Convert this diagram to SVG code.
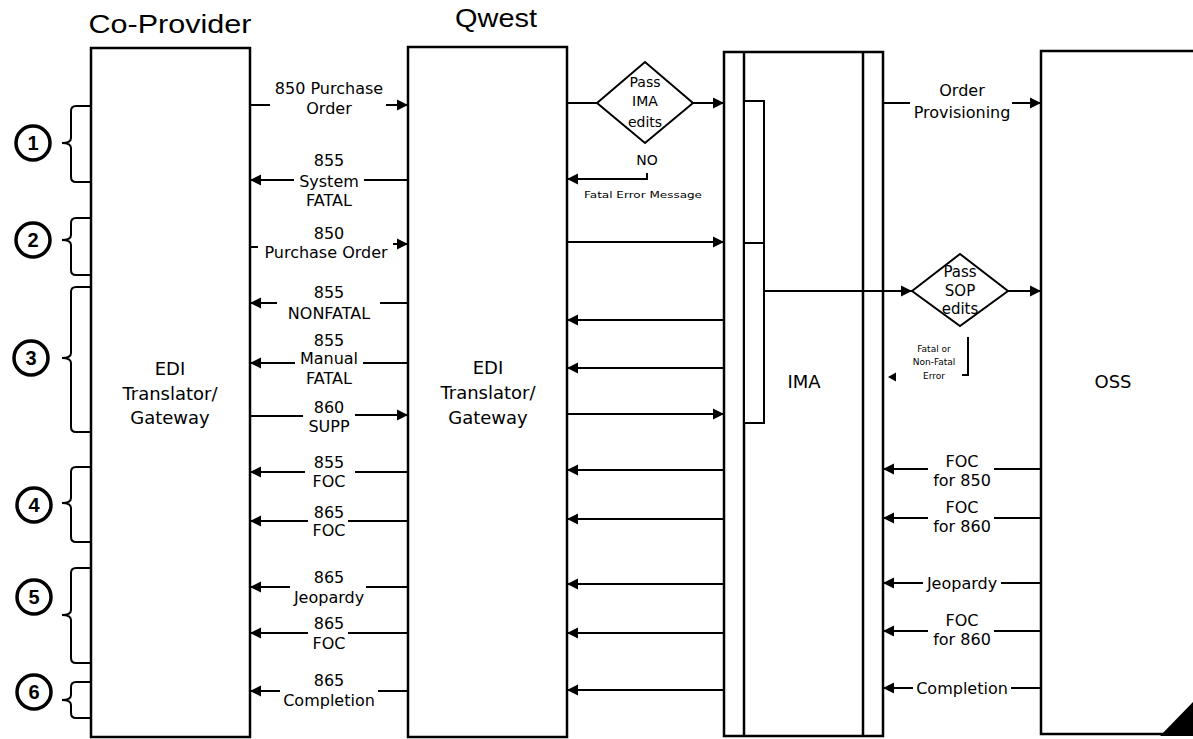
<svg xmlns="http://www.w3.org/2000/svg" width="1193" height="739" viewBox="0 0 1193 739">
<style>
.box{fill:#fff;stroke:#000;stroke-width:2.5}
.ln{fill:none;stroke:#000;stroke-width:2}
.arr{marker-end:url(#ah)}
.t{font-family:"DejaVu Sans",sans-serif;font-size:16px;fill:#000;text-anchor:middle}
.big{font-family:"DejaVu Sans",sans-serif;font-size:18px;fill:#000;text-anchor:middle}
.sm{font-family:"DejaVu Sans",sans-serif;font-size:9px;fill:#000;text-anchor:middle}
.title{font-family:"Liberation Sans",Arial,sans-serif;font-size:25px;fill:#000;text-anchor:middle}
.num{font-family:"Liberation Sans",Arial,sans-serif;font-size:20px;font-weight:bold;fill:#000;text-anchor:middle}
.circ{fill:#fff;stroke:#000;stroke-width:3.5}
.brace{fill:none;stroke:#000;stroke-width:2}
</style>
<defs>
<marker id="ah" markerUnits="userSpaceOnUse" markerWidth="12" markerHeight="12" refX="11" refY="6" orient="auto">
<path d="M0,0.5 L11,6 L0,11.5 z" fill="#000"/>
</marker>
</defs>
<rect width="1193" height="739" fill="#fff"/>

<g id="title-coprovider"><text class="title" x="170" y="33" textLength="163" lengthAdjust="spacingAndGlyphs">Co-Provider</text></g>
<g id="title-qwest"><text class="title" x="496" y="27" textLength="82" lengthAdjust="spacingAndGlyphs">Qwest</text></g>

<g id="co-provider">
<rect class="box" x="91" y="48" width="159" height="689"/>
<text class="big" x="170" y="375">EDI</text>
<text class="big" x="170" y="400">Translator/</text>
<text class="big" x="170" y="424">Gateway</text>
</g>

<g id="qwest">
<rect class="box" x="408" y="47" width="159" height="690"/>
<text class="big" x="488" y="374">EDI</text>
<text class="big" x="488" y="399">Translator/</text>
<text class="big" x="488" y="424">Gateway</text>
</g>

<g id="ima">
<rect class="box" x="724" y="52" width="159" height="684"/>
<line class="ln" x1="744" y1="52" x2="744" y2="736" style="stroke-width:2.5"/>
<line class="ln" x1="863" y1="52" x2="863" y2="736" style="stroke-width:2.5"/>
<rect class="box" x="744" y="101" width="20" height="142" style="stroke-width:2"/>
<rect class="box" x="744" y="243" width="20" height="180" style="stroke-width:2"/>
<text class="big" x="804" y="388">IMA</text>
</g>

<g id="oss">
<rect class="box" x="1041" y="51" width="200" height="683"/>
<text class="big" x="1113" y="388">OSS</text>
<polygon points="1160,736 1195,736 1195,700" fill="#000"/>
</g>

<g id="ima-edits-check">
<polygon class="box" points="597,103 645,62 693,103 645,143" style="stroke-width:2"/>
<text class="t" x="645" y="87" style="font-size:14px">Pass</text>
<text class="t" x="645" y="106" style="font-size:14px">IMA</text>
<text class="t" x="645" y="127" style="font-size:14px">edits</text>
</g>

<g id="sop-edits-check">
<polygon class="box" points="912,291 960,254 1008,291 960,326" style="stroke-width:2"/>
<text class="t" x="960" y="277" style="font-size:15px">Pass</text>
<text class="t" x="960" y="296" style="font-size:15px">SOP</text>
<text class="t" x="960" y="314" style="font-size:15px">edits</text>
</g>

<g id="step-markers">
<path class="brace" d="M91,106 H76 Q71,106 71,111 V138 Q71,143 62,143 Q71,143 71,148 V177 Q71,182 76,182 H91"/>
<path class="brace" d="M91,218 H76 Q71,218 71,223 V235 Q71,240 62,240 Q71,240 71,245 V270 Q71,275 76,275 H91"/>
<path class="brace" d="M91,287 H76 Q71,287 71,292 V353 Q71,358 62,358 Q71,358 71,363 V427 Q71,432 76,432 H91"/>
<path class="brace" d="M91,467 H76 Q71,467 71,472 V498 Q71,503 62,503 Q71,503 71,508 V537 Q71,542 76,542 H91"/>
<path class="brace" d="M91,568 H76 Q71,568 71,573 V610 Q71,615 62,615 Q71,615 71,620 V658 Q71,663 76,663 H91"/>
<path class="brace" d="M91,682 H76 Q71,682 71,687 V695 Q71,700 62,700 Q71,700 71,705 V713 Q71,718 76,718 H91"/>
<circle class="circ" cx="33" cy="143" r="17"/><text class="num" x="33" y="150">1</text>
<circle class="circ" cx="33" cy="240" r="17"/><text class="num" x="33" y="247">2</text>
<circle class="circ" cx="31" cy="358" r="17"/><text class="num" x="31" y="365">3</text>
<circle class="circ" cx="34" cy="505" r="17"/><text class="num" x="34" y="512">4</text>
<circle class="circ" cx="34" cy="597" r="17"/><text class="num" x="34" y="604">5</text>
<circle class="circ" cx="34" cy="692" r="17"/><text class="num" x="34" y="699">6</text>
</g>

<g id="connectors">
<!-- Co-Provider <-> Qwest -->
<line class="ln" x1="250" y1="105" x2="270" y2="105"/><line class="ln arr" x1="386" y1="105" x2="408" y2="105"/>
<line class="ln" x1="408" y1="180" x2="364" y2="180"/><line class="ln arr" x1="294" y1="180" x2="250" y2="180"/>
<line class="ln" x1="250" y1="247" x2="258" y2="247"/><line class="ln arr" x1="393" y1="244" x2="408" y2="244"/>
<line class="ln" x1="408" y1="303" x2="380" y2="303"/><line class="ln arr" x1="277" y1="303" x2="250" y2="303"/>
<line class="ln" x1="408" y1="363" x2="363" y2="363"/><line class="ln arr" x1="295" y1="363" x2="250" y2="363"/>
<line class="ln" x1="250" y1="416" x2="303" y2="416"/><line class="ln arr" x1="355" y1="415" x2="408" y2="415"/>
<line class="ln" x1="408" y1="472" x2="355" y2="472"/><line class="ln arr" x1="305" y1="472" x2="250" y2="472"/>
<line class="ln" x1="408" y1="521" x2="348" y2="521"/><line class="ln arr" x1="308" y1="521" x2="250" y2="521"/>
<line class="ln" x1="408" y1="587" x2="366" y2="587"/><line class="ln arr" x1="290" y1="587" x2="250" y2="587"/>
<line class="ln" x1="408" y1="633" x2="348" y2="633"/><line class="ln arr" x1="308" y1="633" x2="250" y2="633"/>
<line class="ln" x1="408" y1="691" x2="378" y2="691"/><line class="ln arr" x1="280" y1="691" x2="250" y2="691"/>
<!-- Qwest <-> IMA -->
<line class="ln" x1="567" y1="103" x2="597" y2="103"/><line class="ln arr" x1="693" y1="103" x2="724" y2="103"/>
<path class="ln arr" d="M647,173 V179 H567"/>
<line class="ln arr" x1="567" y1="242" x2="724" y2="242"/>
<line class="ln arr" x1="724" y1="320" x2="567" y2="320"/>
<line class="ln arr" x1="724" y1="368" x2="567" y2="368"/>
<line class="ln arr" x1="567" y1="414" x2="724" y2="414"/>
<line class="ln arr" x1="724" y1="470" x2="567" y2="470"/>
<line class="ln arr" x1="724" y1="519" x2="567" y2="519"/>
<line class="ln arr" x1="724" y1="584" x2="567" y2="584"/>
<line class="ln arr" x1="724" y1="633" x2="567" y2="633"/>
<line class="ln arr" x1="724" y1="690" x2="567" y2="690"/>
<!-- IMA -> SOP check -> OSS -->
<line class="ln arr" x1="764" y1="291" x2="912" y2="291"/>
<line class="ln arr" x1="1008" y1="291" x2="1041" y2="291"/>
<path class="ln" d="M968,337 V375 H962"/>
<polygon points="888,377 896,372.5 896,381.5" fill="#000"/>
<!-- IMA <-> OSS -->
<line class="ln" x1="883" y1="103" x2="910" y2="103"/><line class="ln arr" x1="1012" y1="103" x2="1041" y2="103"/>
<line class="ln" x1="1041" y1="469" x2="994" y2="469"/><line class="ln arr" x1="928" y1="469" x2="883" y2="469"/>
<line class="ln" x1="1041" y1="518" x2="994" y2="518"/><line class="ln arr" x1="928" y1="518" x2="883" y2="518"/>
<line class="ln" x1="1041" y1="583" x2="1001" y2="583"/><line class="ln arr" x1="923" y1="583" x2="883" y2="583"/>
<line class="ln" x1="1041" y1="631" x2="994" y2="631"/><line class="ln arr" x1="928" y1="631" x2="883" y2="631"/>
<line class="ln" x1="1041" y1="688" x2="1011" y2="688"/><line class="ln arr" x1="913" y1="688" x2="883" y2="688"/>
</g>

<g id="connector-labels">
<text class="t" x="329" y="94">850 Purchase</text><text class="t" x="329" y="114">Order</text>
<text class="t" x="329" y="166">855</text><text class="t" x="329" y="187">System</text><text class="t" x="329" y="206">FATAL</text>
<text class="t" x="329" y="239">850</text><text class="t" x="326" y="258">Purchase Order</text>
<text class="t" x="329" y="298">855</text><text class="t" x="329" y="319">NONFATAL</text>
<text class="t" x="329" y="346">855</text><text class="t" x="329" y="364">Manual</text><text class="t" x="329" y="384">FATAL</text>
<text class="t" x="329" y="413">860</text><text class="t" x="329" y="432">SUPP</text>
<text class="t" x="329" y="468">855</text><text class="t" x="329" y="487">FOC</text>
<text class="t" x="329" y="518">865</text><text class="t" x="329" y="536">FOC</text>
<text class="t" x="329" y="583">865</text><text class="t" x="329" y="603">Jeopardy</text>
<text class="t" x="329" y="629">865</text><text class="t" x="329" y="649">FOC</text>
<text class="t" x="329" y="686">865</text><text class="t" x="329" y="706">Completion</text>
<text class="t" x="647" y="165" style="font-size:14px">NO</text>
<text class="sm" x="643" y="198" textLength="118" lengthAdjust="spacingAndGlyphs">Fatal Error Message</text>
<text class="t" x="962" y="96">Order</text><text class="t" x="962" y="118">Provisioning</text>
<text class="sm" x="934" y="352">Fatal or</text><text class="sm" x="934" y="365">Non-Fatal</text><text class="sm" x="934" y="379">Error</text>
<text class="t" x="962" y="467">FOC</text><text class="t" x="962" y="486">for 850</text>
<text class="t" x="962" y="513">FOC</text><text class="t" x="962" y="532">for 860</text>
<text class="t" x="962" y="589">Jeopardy</text>
<text class="t" x="962" y="626">FOC</text><text class="t" x="962" y="645">for 860</text>
<text class="t" x="962" y="694">Completion</text>
</g>
</svg>
